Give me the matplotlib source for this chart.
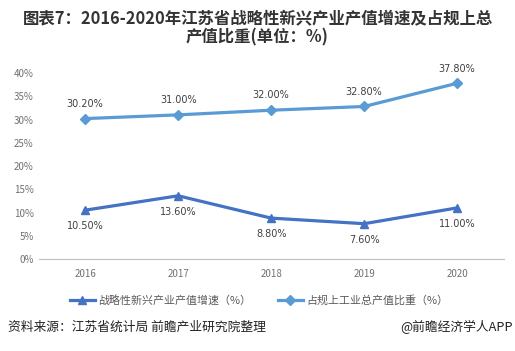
import matplotlib
matplotlib.use("Agg")
import matplotlib.pyplot as plt
from matplotlib.ticker import FuncFormatter

plt.rcParams['font.family'] = ['Noto Sans CJK SC', 'DejaVu Sans']

years = ['2016', '2017', '2018', '2019', '2020']
growth = [10.5, 13.6, 8.8, 7.6, 11.0]
share = [30.2, 31.0, 32.0, 32.8, 37.8]
series_names = ['战略性新兴产业产值增速（%）', '占规上工业总产值比重（%）']
title = '图表7：2016-2020年江苏省战略性新兴产业产值增速及占规上总\n产值比重(单位：%)'
source = '资料来源：江苏省统计局 前瞻产业研究院整理'
brand = '@前瞻经济学人APP'

fig = plt.figure(figsize=(5.15, 3.51), dpi=100)
ax = fig.add_axes([0.075, 0.262, 0.903, 0.53])

x = list(range(len(years)))
c1 = '#4472C4'
c2 = '#5B9BD5'
ax.plot(x, growth, color=c1, lw=2.3, marker='^', ms=6, label=series_names[0])
ax.plot(x, share, color=c2, lw=2.3, marker='D', ms=5, label=series_names[1])

for xi, v in zip(x, growth):
    ax.annotate(f'{v:.2f}%', (xi, v), xytext=(0, -8), textcoords='offset points',
                ha='center', va='top', fontsize=7, color='#404040', family='DejaVu Sans')
for xi, v in zip(x, share):
    ax.annotate(f'{v:.2f}%', (xi, v), xytext=(0, 7), textcoords='offset points',
                ha='center', va='bottom', fontsize=7, color='#404040', family='DejaVu Sans')

ax.set_xlim(-0.5, 4.5)
ax.set_ylim(0, 40)
ax.set_yticks(range(0, 41, 5))
ax.yaxis.set_major_formatter(FuncFormatter(lambda v, p: f'{int(v)}%'))
ax.set_xticks(x)
ax.set_xticklabels(years)
ax.tick_params(axis='both', length=0, labelsize=7, colors='#707070')
ax.tick_params(axis='x', pad=7)
for s in ['top', 'right', 'left']:
    ax.spines[s].set_visible(False)
ax.spines['bottom'].set_color('#BFBFBF')

ax.legend(loc='upper center', bbox_to_anchor=(0.474, -0.14), ncol=2, frameon=False,
          fontsize=7.9, handlelength=2.3, handletextpad=0.3, columnspacing=2.4,
          labelcolor='#595959')

fig.text(0.5, 0.972, title, ha='center', va='top', fontsize=11.8, fontweight='bold',
         color='#333333', linespacing=1.05)
fig.text(0.015, 0.068, source, ha='left', va='center', fontsize=9.2, color='#222222')
fig.text(0.995, 0.068, brand, ha='right', va='center', fontsize=9.2, color='#222222')

fig.savefig('out.png', dpi=100)
